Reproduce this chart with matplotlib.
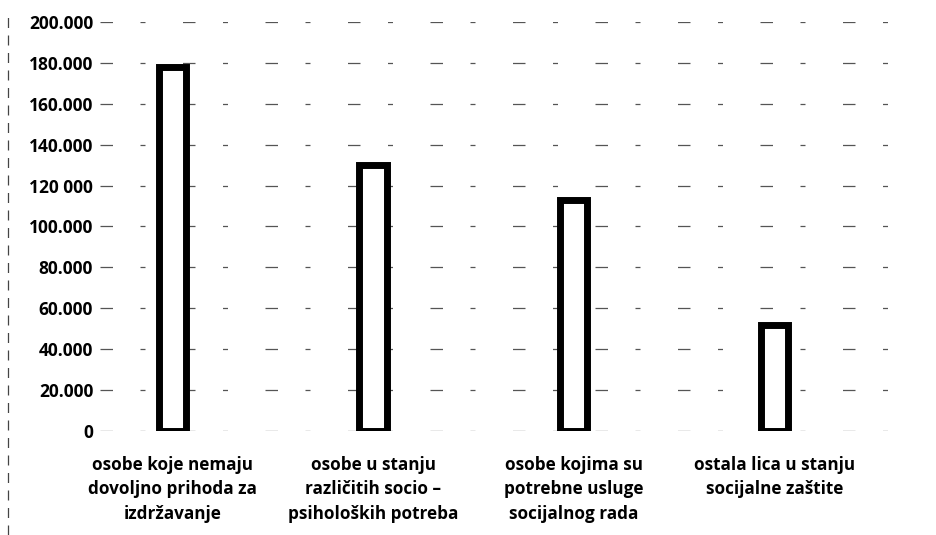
import matplotlib
matplotlib.use("Agg")
import matplotlib.pyplot as plt
from matplotlib.lines import Line2D

categories = [
    "osobe koje nemaju\ndovoljno prihoda za\nizdržavanje",
    "osobe u stanju\nrazličitih socio –\npsiholoških potreba",
    "osobe kojima su\npotrebne usluge\nsocijalnog rada",
    "ostala lica u stanju\nsocijalne zaštite",
]
values = [178000, 130000, 113000, 52000]
tick_values = [0, 20000, 40000, 60000, 80000, 100000, 120000, 140000, 160000, 180000, 200000]
tick_labels = ["0", "20.000", "40.000", "60.000", "80.000", "100.000", "120 000",
               "140.000", "160.000", "180.000", "200.000"]

plt.rcParams['font.family'] = ['Open Sans', 'DejaVu Sans']

fig = plt.figure(figsize=(9.36, 5.35), dpi=100)
ax = fig.add_axes([0.107, 0.1944, 0.881, 0.7645])

x = list(range(len(categories)))
ax.bar(x, values, width=0.135, facecolor="white", edgecolor="black", linewidth=5, zorder=3)

ax.set_ylim(0, 200000)
ax.set_xlim(-0.36, 3.75)
ax.set_yticks(tick_values)
ax.set_yticklabels(tick_labels, fontsize=12.5, fontweight="bold")
ax.tick_params(axis="y", length=0, pad=5)
ax.set_xticks(x)
ax.set_xticklabels(categories, fontsize=12.3, fontweight="bold", linespacing=1.45)
ax.tick_params(axis="x", length=0, pad=18)

for v in tick_values:
    ax.axhline(v, color="#555555", linewidth=0.9, linestyle=(0, (10, 22, 4, 30)), zorder=1)

for s in ax.spines.values():
    s.set_visible(False)

fig.add_artist(Line2D([0.009, 0.009], [0.0, 0.98], transform=fig.transFigure,
                      color="#444444", linewidth=0.9, linestyle=(0, (8, 6))))

fig.savefig("out.png", dpi=100, facecolor="white")
